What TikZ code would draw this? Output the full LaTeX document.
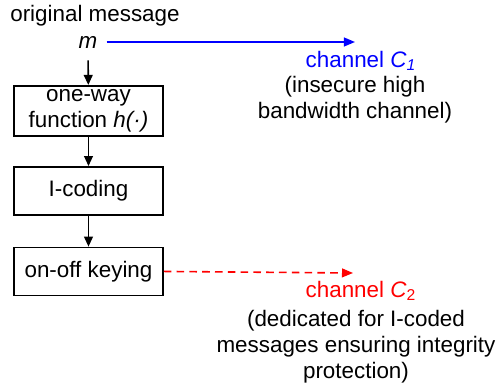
\documentclass[tikz,border=0pt]{standalone}
\usepackage{fontspec}
\setmainfont{Liberation Sans}
\usetikzlibrary{arrows.meta, positioning}

\begin{document}
\begin{tikzpicture}[x=0.5pt, y=-0.5pt,
    font=\fontsize{11.2pt}{12.9pt}\selectfont,
    lbl/.style={inner sep=0pt, align=center},
    blk/.style={rectangle, draw, line width=0.8pt, minimum width=74.5pt, minimum height=24pt, align=center, inner sep=2pt},
    flow/.style={-{Triangle[length=5pt,width=4.4pt]}, line width=0.8pt},
    chan/.style={-{Triangle[length=5.5pt,width=4.4pt]}, line width=0.8pt}
]
    \useasboundingbox (0,0) rectangle (500,384);
    \node [lbl] (orig) at (95,16) {original message};
    \node [lbl] (msg) at (88,42) {\textit{m}};
    \node [blk] (hash) at (88.5,111) {one-way\\function \textit{h(·)}};
    \node [blk, below=14.5pt of hash] (icode) {I-coding};
    \node [blk, below=15.5pt of icode] (ook) {on-off keying};
    \coordinate (c1end) at (355,42);
    \coordinate (c2end) at (353,273);
    \node [lbl, blue] (ch1) at (361,61) {channel \textit{C\textsubscript{1}}};
    \node [lbl] (ch1txt) at (355,100) {(insecure high\\bandwidth channel)};
    \node [lbl, red] (ch2) at (361,291) {channel \textit{C}\textsubscript{2}};
    \node [lbl] (ch2txt) at (356,347) {(dedicated for I-coded\\messages ensuring integrity\\protection)};
    \draw [flow, shorten <=6pt] (msg) -- (hash);
    \draw [flow] (hash) -- (icode);
    \draw [flow] (icode) -- (ook);
    \draw [chan, blue, shorten <=4.5pt] (msg.east) -- (c1end);
    \draw [chan, red, dash pattern=on 3.8pt off 2.6pt] (ook.east) -- (c2end);
\end{tikzpicture}
\end{document}
